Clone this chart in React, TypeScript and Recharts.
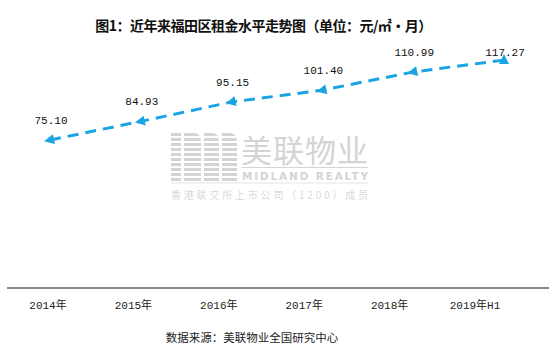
import React from 'react';
import { LineChart, Line, XAxis, YAxis } from 'recharts';

// Rent level, Futian district (yuan / m² / month)
const years = ['2014年', '2015年', '2016年', '2017年', '2018年', '2019年H1'];
const rents = [75.1, 84.93, 95.15, 101.4, 110.99, 117.27];

const data = years.map((year, i) => ({ year, rent: rents[i] }));

const BLUE = '#1ba3e3';
const MARK = '#d4d4d4';

// arrow-head marker, pointing back along the line (last one points up)
const ArrowDot = (props: any) => {
    const { cx, cy, index } = props;
    if (cx == null || cy == null) return null;
    const rot = index === data.length - 1 ? 0 : -102;
    return (
        <polygon
            key={`dot-${index}`}
            points="0,-6 -5,4 5,4"
            fill={BLUE}
            transform={`translate(${cx},${cy}) rotate(${rot})`}
        />
    );
};

const ValueLabel = (props: any) => {
    const { x, y, value, index } = props;
    const cy = Math.max(y - 20, 52);
    return (
        <text
            key={`lbl-${index}`}
            x={x + 1}
            y={cy + 4}
            textAnchor="middle"
            fontSize={11}
            fontFamily="Liberation Mono, monospace"
            fill="#111"
        >
            {Number(value).toFixed(2)}
        </text>
    );
};

const YearTick = (props: any) => {
    const { x, y, payload } = props;
    return (
        <text
            x={x}
            y={y + 21}
            textAnchor="middle"
            fontSize={11}
            fontFamily="Liberation Mono, 'Noto Sans CJK SC', monospace"
            fill="#222"
        >
            {payload.value}
        </text>
    );
};

// light grey company logo behind the plot
const Watermark = () => {
    const stripes = [];
    for (let y = 133; y < 181; y += 5) {
        stripes.push(<rect key={y} x={171} y={y} width={66} height={3} fill={MARK} />);
    }
    return (
        <svg width={555} height={359} style={{ position: 'absolute', left: 0, top: 0 }}>
            <defs>
                <clipPath id="mlogo">
                    <rect x={171} y={133} width={10} height={48} />
                    <path d="M184,181 L184,133 L194,133 Q201,133 201,142 L201,181 Z" />
                    <path d="M204,181 L204,133 L212,133 Q219,133 219,142 L219,181 Z" />
                    <path d="M222,181 L222,133 L229,133 Q237,133 237,142 L237,181 Z" />
                </clipPath>
            </defs>
            <g clipPath="url(#mlogo)">{stripes}</g>
            <text
                x={241}
                y={162}
                fontSize={31}
                fontFamily="'Noto Sans CJK SC', sans-serif"
                fill={MARK}
                textLength={127}
            >
                美联物业
            </text>
            <line x1={241} y1={167.5} x2={368} y2={167.5} stroke={MARK} strokeWidth={1} />
            <text
                x={242}
                y={180}
                fontSize={10.5}
                fontWeight="bold"
                fontFamily="'DejaVu Sans', sans-serif"
                fill={MARK}
                textLength={126}
            >
                MIDLAND REALTY
            </text>
            <line x1={171} y1={183} x2={368} y2={183} stroke="#e4e4e4" strokeWidth={1} />
            <text
                x={171}
                y={199}
                fontSize={10}
                fontFamily="'Noto Sans CJK SC', sans-serif"
                fill="#dadada"
                textLength={197}
            >
                香港联交所上市公司（1200）成员
            </text>
        </svg>
    );
};

export default function App() {
    return (
        <div
            style={{
                position: 'fixed',
                left: 0,
                top: 0,
                width: 555,
                height: 359,
                background: '#fff',
                fontFamily: "'Noto Sans CJK SC', sans-serif",
            }}
        >
            <Watermark />
            <div
                style={{
                    position: 'absolute',
                    left: 0,
                    width: 527,
                    top: 15,
                    textAlign: 'center',
                    fontSize: 14,
                    letterSpacing: -0.5,
                    fontWeight: 'bold',
                    lineHeight: '20px',
                    color: '#111',
                }}
            >
                图1：近年来福田区租金水平走势图（单位：元/㎡・月）
            </div>
            <div
                style={{
                    position: 'absolute',
                    left: 0,
                    width: 504,
                    top: 327,
                    textAlign: 'center',
                    fontSize: 11.5,
                    lineHeight: '20px',
                    color: '#222',
                }}
            >
                数据来源：美联物业全国研究中心
            </div>
            <div style={{ position: 'absolute', left: 0, top: 0 }}>
                <LineChart
                    width={555}
                    height={359}
                    data={data}
                    margin={{ top: 17, right: 6, bottom: 41, left: 7 }}
                >
                    <XAxis
                        xAxisId="a"
                        dataKey="year"
                        height={30}
                        interval={0}
                        padding={{ left: 41, right: 74 }}
                        tickLine={false}
                        tickSize={0}
                        tickMargin={0}
                        axisLine={{ stroke: '#888', strokeWidth: 2 }}
                        tick={<YearTick />}
                    />
                    <XAxis xAxisId="b" dataKey="year" hide height={0} padding={{ left: 43, right: 45 }} />
                    <YAxis hide type="number" domain={[-3, 140]} allowDataOverflow />
                    <Line
                        xAxisId="b"
                        dataKey="rent"
                        stroke={BLUE}
                        strokeWidth={3}
                        strokeDasharray="11 7"
                        dot={<ArrowDot />}
                        activeDot={false}
                        label={<ValueLabel />}
                        isAnimationActive={false}
                    />
                </LineChart>
            </div>
        </div>
    );
}
